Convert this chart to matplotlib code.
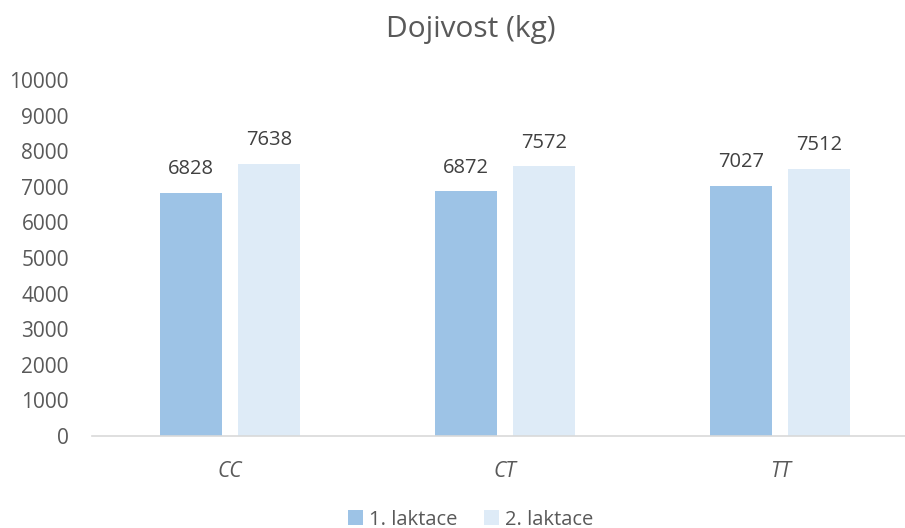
import matplotlib
matplotlib.use("Agg")
from matplotlib import pyplot as plt
import numpy as np

plt.rcParams['font.family'] = ['Open Sans', 'DejaVu Sans']

# data
categories = ['CC', 'CT', 'TT']
series_names = ['1. laktace', '2. laktace']
lakt1 = [6828, 6872, 7027]
lakt2 = [7638, 7572, 7512]
yticks = list(range(0, 10001, 1000))

colors = ['#9DC3E6', '#DEEBF7']
txt = '#595959'

fig = plt.figure(figsize=(9.05, 5.28), dpi=100)
# plot area runs slightly past the right edge, like the original
ax = fig.add_axes([0.1022, 0.1742, 0.9116, 0.6742])

x = np.arange(len(categories))
w = 0.225
off = 0.142
b1 = ax.bar(x - off, lakt1, width=w, color=colors[0], label=series_names[0])
b2 = ax.bar(x + off, lakt2, width=w, color=colors[1], label=series_names[1])

for bars, vals in ((b1, lakt1), (b2, lakt2)):
    for bar, v in zip(bars, vals):
        ax.annotate(str(v), (bar.get_x() + bar.get_width() / 2, v),
                    xytext=(0, 10), textcoords='offset points',
                    ha='center', va='bottom', fontsize=14.5, color='#404040')

ax.set_xlim(-0.5, 2.5)
ax.set_ylim(0, 10000)
ax.set_yticks(yticks)
ax.set_xticks(x)
ax.set_xticklabels(categories, fontstyle='italic')
ax.tick_params(axis='y', length=0, labelsize=15, labelcolor=txt, pad=17)
ax.tick_params(axis='x', length=0, labelsize=15, labelcolor=txt, pad=18)
for s in ['top', 'right', 'left']:
    ax.spines[s].set_visible(False)
ax.spines['bottom'].set_color('#D9D9D9')
ax.spines['bottom'].set_linewidth(1.2)

fig.text(0.52, 0.945, 'Dojivost (kg)', ha='center', va='center',
         fontsize=21.5, color=txt)

fig.legend(loc='center', bbox_to_anchor=(0.52, 0.016), ncol=2, frameon=False,
           fontsize=14.5, labelcolor=txt, handlelength=0.75, handleheight=0.75,
           handletextpad=0.3, columnspacing=1.3, borderpad=0.1)

fig.savefig('out.png', dpi=100)
